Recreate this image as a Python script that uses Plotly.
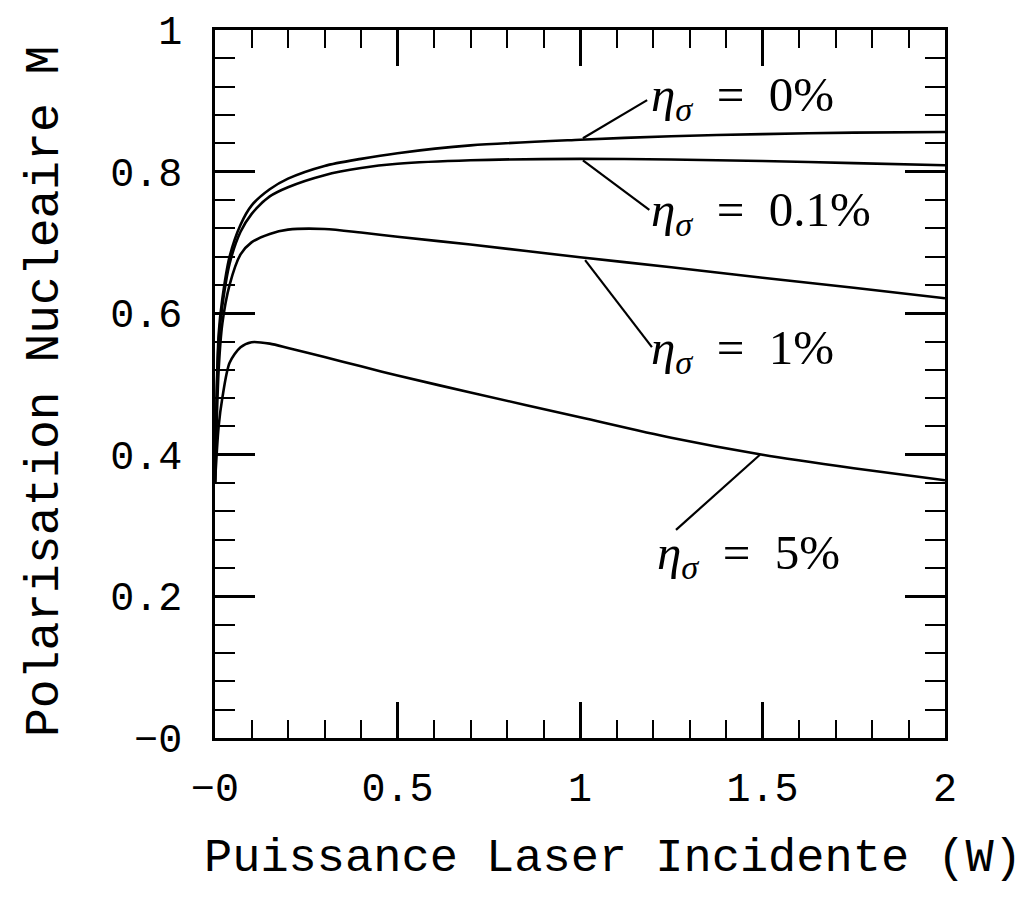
import plotly.graph_objects as go

# ---- data ----
power_w = [0, 0.01, 0.02, 0.04, 0.07, 0.1, 0.15, 0.2, 0.3, 0.4, 0.5, 0.7, 1.0, 1.25, 1.5, 1.75, 2.0]
m_eta_0 = [0.36, 0.57, 0.62, 0.68, 0.725, 0.752, 0.775, 0.79, 0.808, 0.818, 0.826, 0.837, 0.845, 0.850, 0.853, 0.855, 0.856]
m_eta_01 = [0.36, 0.56, 0.61, 0.67, 0.715, 0.74, 0.765, 0.778, 0.795, 0.805, 0.811, 0.816, 0.818, 0.817, 0.815, 0.812, 0.809]
m_eta_1 = [0.36, 0.52, 0.585, 0.64, 0.683, 0.70, 0.712, 0.718, 0.719, 0.714, 0.708, 0.697, 0.679, 0.665, 0.65, 0.636, 0.621]
m_eta_5 = [0.36, 0.44, 0.48, 0.53, 0.552, 0.559, 0.557, 0.551, 0.538, 0.525, 0.512, 0.488, 0.453, 0.424, 0.40, 0.381, 0.364]

series_names = ["0%", "0.1%", "1%", "5%"]
series_values = [m_eta_0, m_eta_01, m_eta_1, m_eta_5]

# callout labels: leader start on curve (x, y), leader end (x, y), text anchor (x, y)
leader_start_x = [1.008, 1.008, 1.014, 1.493]
leader_start_y = [0.847, 0.816, 0.675, 0.400]
leader_end_x = [1.184, 1.19, 1.197, 1.263]
leader_end_y = [0.901, 0.746, 0.552, 0.294]
label_x = [1.19, 1.19, 1.19, 1.205]
label_y = [0.905, 0.742, 0.547, 0.258]

x_tickvals = [0, 0.5, 1, 1.5, 2]
x_ticktext = ["\u22120", "0.5", "1", "1.5", "2"]
y_tickvals = [0, 0.2, 0.4, 0.6, 0.8, 1]
y_ticktext = ["\u22120", "0.2", "0.4", "0.6", "0.8", "1"]

x_title = "Puissance Laser Incidente (W)"
y_title = "Polarisation Nucleaire M"

FONT = "Liberation Mono"

# page body has an 8px margin; plot area in figure coordinates
ML, MT, MR, MB = 207, 22, 93, 167
W, H = 1030, 897
PW, PH = W - ML - MR, H - MT - MB
OFF = 8

fig = go.Figure()
for name, vals in zip(series_names, series_values):
    fig.add_trace(go.Scatter(
        x=power_w, y=vals, mode="lines", name=name,
        line=dict(color="black", width=2.6, shape="spline", smoothing=0.8),
        showlegend=False, hoverinfo="skip",
    ))

for i, name in enumerate(series_names):
    fig.add_shape(type="line", xref="x", yref="y",
                  x0=leader_start_x[i], y0=leader_start_y[i],
                  x1=leader_end_x[i], y1=leader_end_y[i],
                  line=dict(color="black", width=2.2))
    fig.add_annotation(
        x=label_x[i], y=label_y[i], xref="x", yref="y",
        xanchor="left", yanchor="middle", showarrow=False,
        text="<i>\u03b7</i><sub><i>\u03c3</i></sub>\u00a0\u00a0=\u00a0\u00a0" + name,
        font=dict(family="Liberation Serif", size=49, color="black"),
    )

def px_to_paper(px, py):
    fx, fy = px - OFF, py - OFF
    return (fx - ML) / PW, (MT + PH - fy) / PH

xt_x, xt_y = px_to_paper(613, 858)
yt_x, yt_y = px_to_paper(45, 392)
fig.add_annotation(x=xt_x, y=xt_y, xref="paper", yref="paper", text=x_title,
                   showarrow=False, xanchor="center", yanchor="middle",
                   font=dict(family=FONT, size=47, color="black"))
fig.add_annotation(x=yt_x, y=yt_y, xref="paper", yref="paper", text=y_title,
                   showarrow=False, textangle=-90, xanchor="center", yanchor="middle",
                   font=dict(family=FONT, size=48, color="black"))

axis_common = dict(
    showline=True, linecolor="black", linewidth=2.5, mirror="ticks",
    ticks="inside", tickcolor="black", tickwidth=2.5,
    showgrid=False, zeroline=False, automargin=False,
    tickfont=dict(family=FONT, size=40, color="black"),
)

fig.update_xaxes(
    range=[0, 2], tickvals=x_tickvals, ticktext=x_ticktext, ticklen=36,
    ticklabelstandoff=12,
    minor=dict(dtick=0.1, ticklen=18, tickwidth=2.2, tickcolor="black", ticks="inside"),
    **axis_common,
)
fig.update_yaxes(
    range=[0, 1], tickvals=y_tickvals, ticktext=y_ticktext, ticklen=40,
    ticklabelstandoff=22,
    minor=dict(dtick=0.04, ticklen=20, tickwidth=2.2, tickcolor="black", ticks="inside"),
    **axis_common,
)

fig.update_layout(
    width=W, height=H,
    margin=dict(l=ML, r=MR, t=MT, b=MB),
    paper_bgcolor="white", plot_bgcolor="white",
)

fig.write_html("out.html")
